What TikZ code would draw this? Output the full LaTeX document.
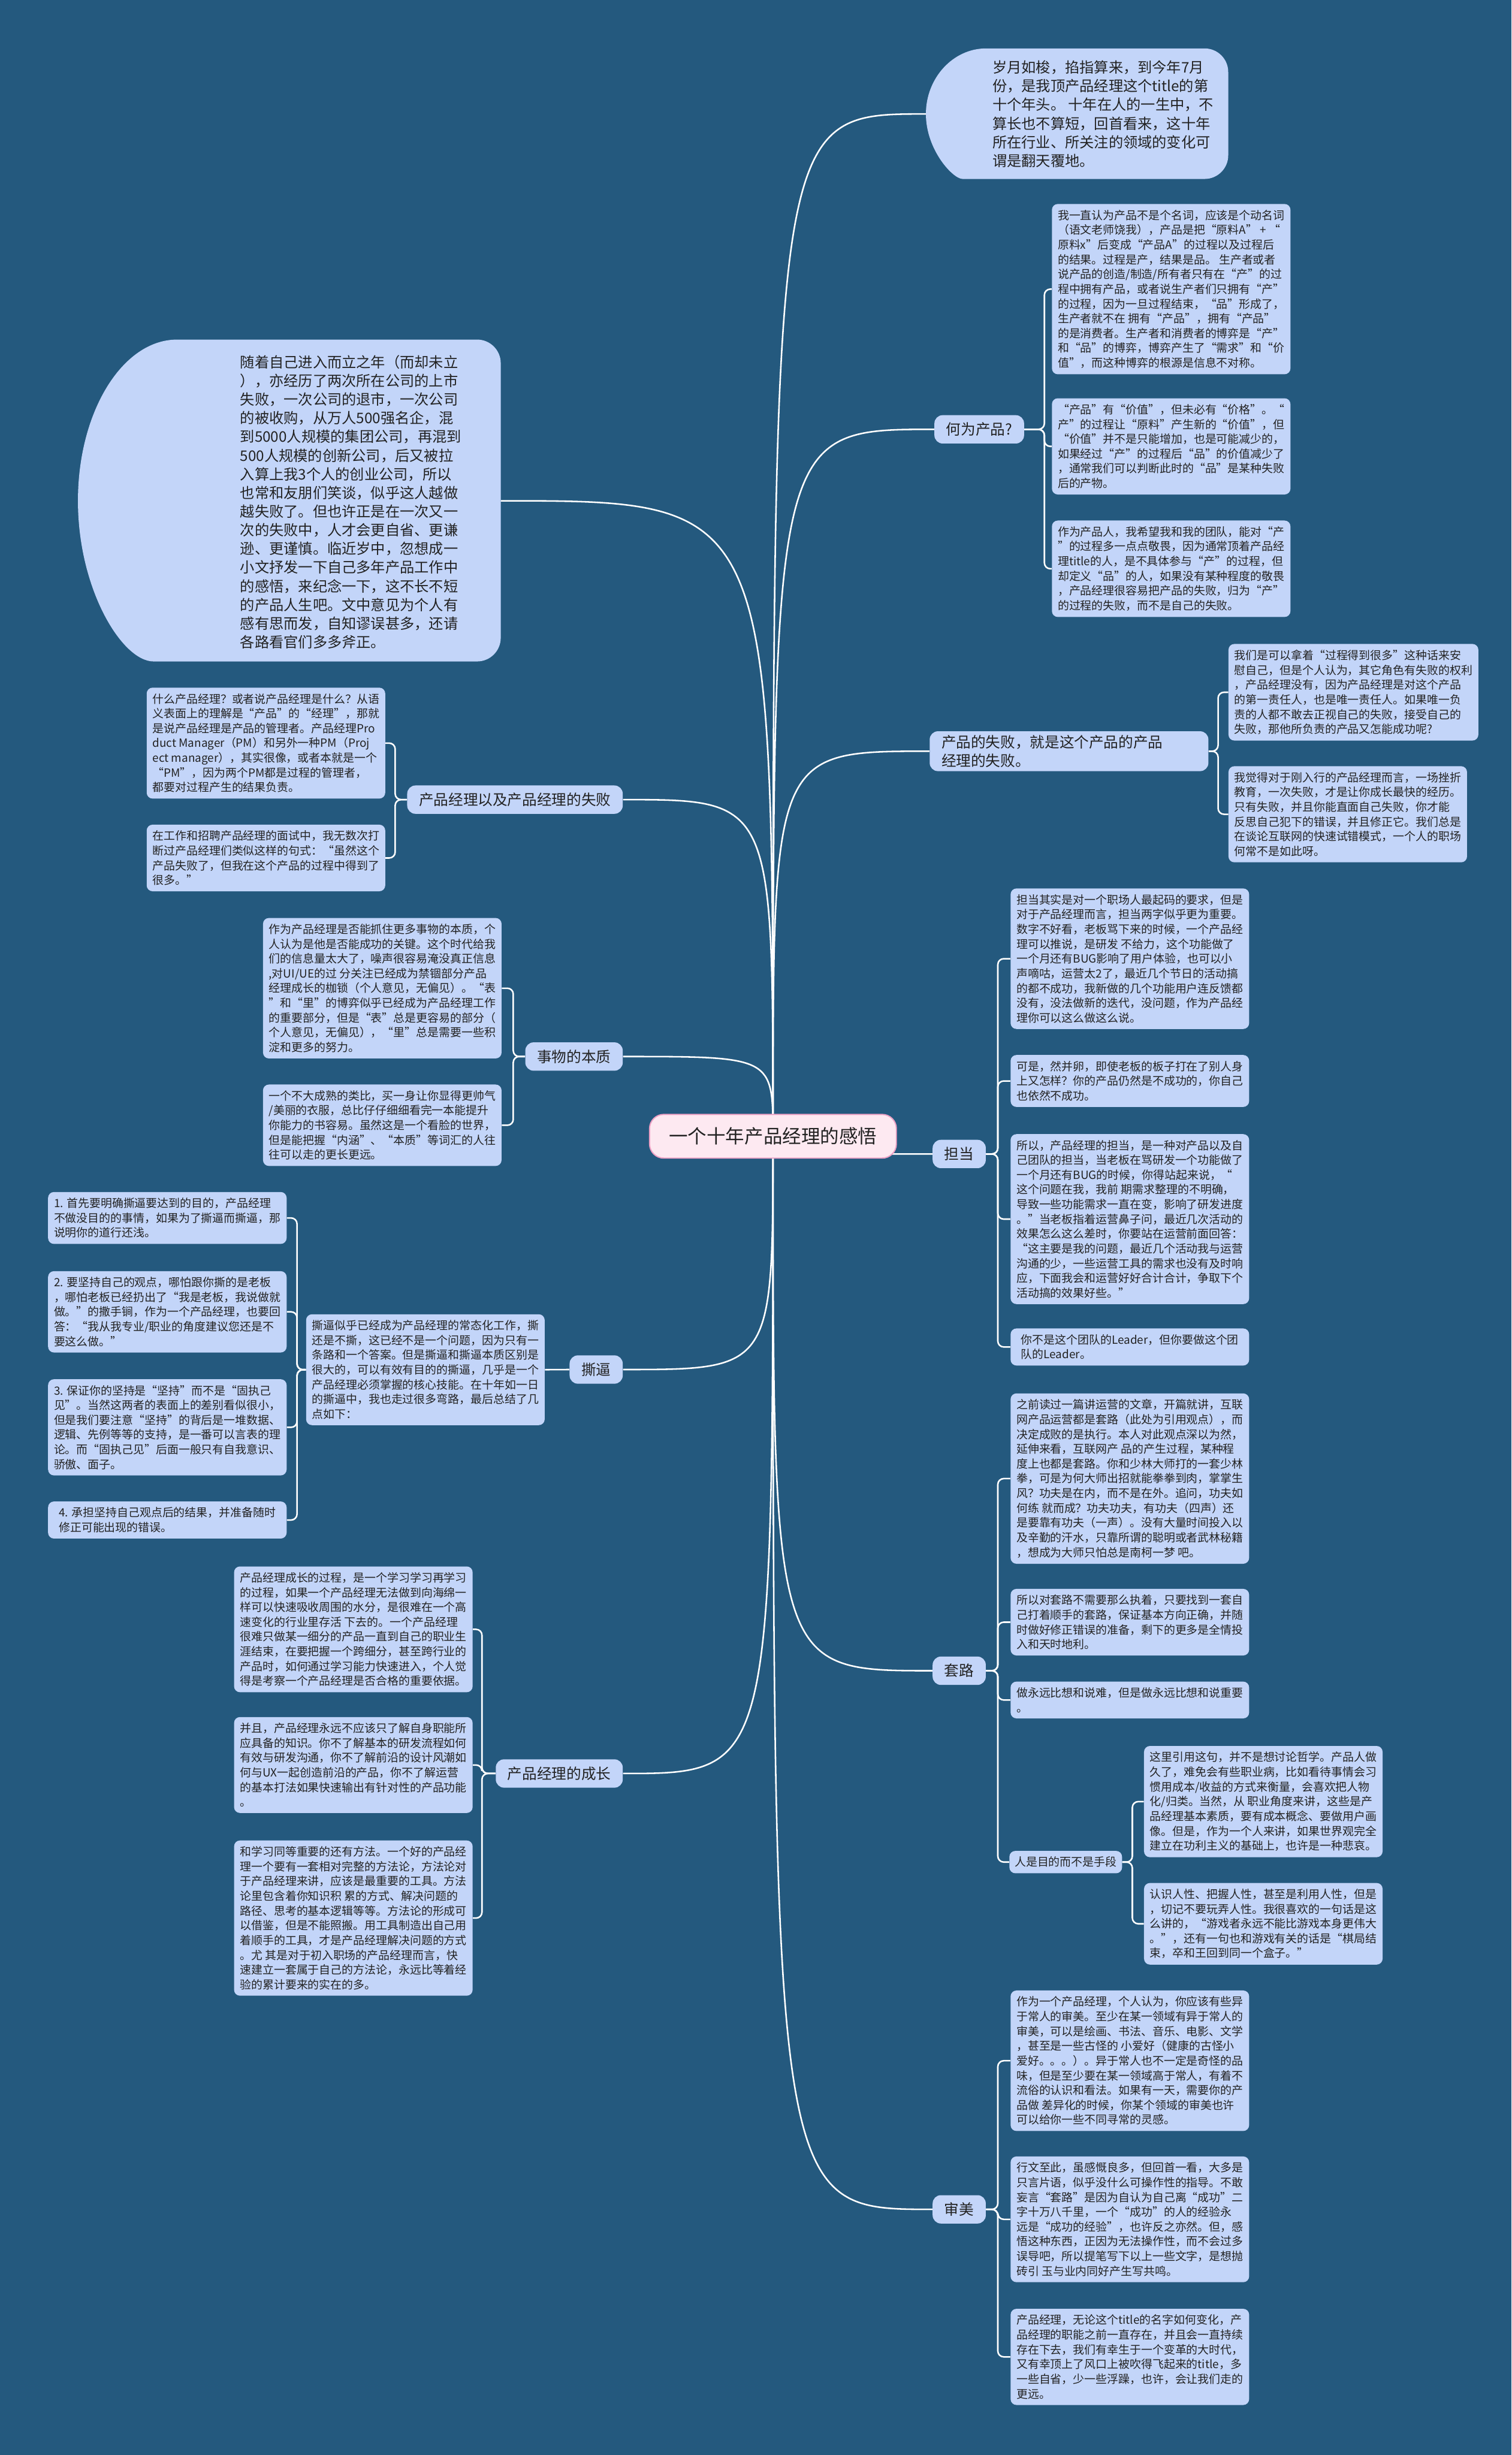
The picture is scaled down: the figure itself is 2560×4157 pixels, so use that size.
\documentclass[tikz,border=0pt]{standalone}
\usepackage{fontspec}
\setmainfont{Noto Sans CJK SC}
\usetikzlibrary{calc}
\definecolor{bgblue}{RGB}{36,89,126}
\definecolor{leafblue}{RGB}{195,213,249}
\definecolor{hubpink}{RGB}{253,233,241}
\definecolor{hubline}{RGB}{236,160,196}
\definecolor{ink}{RGB}{34,34,34}
\pgfdeclarelayer{bg}
\pgfsetlayers{bg,main}
\begin{document}
\begin{tikzpicture}[x=0.5pt, y=-0.5pt,
    link/.style={draw=white, line width=1.3pt},
    fork/.style={link, rounded corners=5pt},
    leaf/.style={fill=leafblue, text=ink, rounded corners=5pt, align=left, minimum width=202pt,
        inner xsep=5pt, inner ysep=5pt, anchor=north west, font=\fontsize{9.6}{12.5}\selectfont},
    topic/.style={fill=leafblue, text=ink, rounded corners=7pt, inner xsep=10pt, minimum height=24pt,
        font=\fontsize{12.5}{15.5}\selectfont},
    bigtext/.style={text=ink, align=left, font=\fontsize{12.3}{15.8}\selectfont},
    hub/.style={fill=hubpink, draw=hubline, line width=1pt, text=ink, rounded corners=12pt,
        minimum width=209pt, minimum height=37pt, font=\fontsize{16}{20}\selectfont}]
    \useasboundingbox (0,0) rectangle (2560,4157);

    \node[hub] (core) at (1309,1924) {一个十年产品经理的感悟};

    \node[bigtext] (intro) at (1868,193) {岁月如梭，掐指算来，到今年7月\\份，是我顶产品经理这个title的第\\十个年头。 十年在人的一生中，不\\算长也不算短，回首看来，这十年\\所在行业、所关注的领域的变化可\\谓是翻天覆地。};
    \coordinate (introtip) at (1568,193);

    \node[bigtext] (story) at (594,850) {随着自己进入而立之年（而却未立\\），亦经历了两次所在公司的上市\\失败，一次公司的退市，一次公司\\的被收购，从万人500强名企，混\\到5000人规模的集团公司，再混到\\500人规模的创新公司，后又被拉\\入算上我3个人的创业公司，所以\\也常和友朋们笑谈，似乎这人越做\\越失败了。但也许正是在一次又一\\次的失败中，人才会更自省、更谦\\逊、更谨慎。临近岁中，忽想成一\\小文抒发一下自己多年产品工作中\\的感悟，来纪念一下，这不长不短\\的产品人生吧。文中意见为个人有\\感有思而发，自知谬误甚多，还请\\各路看官们多多斧正。};
    \coordinate (storytip) at (848,848);

    % right side
    \node[topic, anchor=west] (whatprod) at (1582,727) {何为产品?};
    \node[leaf] (r1a) at (1781,345) {我一直认为产品不是个名词，应该是个动名词\\（语文老师饶我），产品是把“原料A” + “\\原料x”后变成“产品A”的过程以及过程后\\的结果。过程是产，结果是品。 生产者或者\\说产品的创造/制造/所有者只有在“产”的过\\程中拥有产品，或者说生产者们只拥有“产”\\的过程，因为一旦过程结束，“品”形成了，\\生产者就不在 拥有“产品”，拥有“产品”\\的是消费者。生产者和消费者的博弈是“产”\\和“品”的博弈，博弈产生了“需求”和“价\\值”，而这种博弈的根源是信息不对称。};
    \node[leaf] (r1b) at (1781,674) {“产品”有“价值”，但未必有“价格”。“\\产”的过程让“原料”产生新的“价值”，但\\“价值”并不是只能增加，也是可能减少的，\\如果经过“产”的过程后“品”的价值减少了\\，通常我们可以判断此时的“品”是某种失败\\后的产物。};
    \node[leaf] (r1c) at (1781,881) {作为产品人，我希望我和我的团队，能对“产\\”的过程多一点点敬畏，因为通常顶着产品经\\理title的人，是不具体参与“产”的过程，但\\却定义“品”的人，如果没有某种程度的敬畏\\，产品经理很容易把产品的失败，归为“产”\\的过程的失败，而不是自己的失败。};

    \node[topic, anchor=west, text width=216pt, align=left] (prodfail) at (1574,1272) {产品的失败，就是这个产品的产品\\经理的失败。};
    \node[leaf] (r2a) at (2080,1090) {我们是可以拿着“过程得到很多”这种话来安\\慰自己，但是个人认为，其它角色有失败的权利\\，产品经理没有，因为产品经理是对这个产品\\的第一责任人，也是唯一责任人。如果唯一负\\责的人都不敢去正视自己的失败，接受自己的\\失败，那他所负责的产品又怎能成功呢?};
    \node[leaf] (r2b) at (2080,1297) {我觉得对于刚入行的产品经理而言，一场挫折\\教育，一次失败，才是让你成长最快的经历。\\只有失败，并且你能直面自己失败，你才能\\反思自己犯下的错误，并且修正它。我们总是\\在谈论互联网的快速试错模式，一个人的职场\\何常不是如此呀。};

    \node[topic, anchor=west] (duty) at (1579,1954) {担当};
    \node[leaf] (r3a) at (1711,1504) {担当其实是对一个职场人最起码的要求，但是\\对于产品经理而言，担当两字似乎更为重要。\\数字不好看，老板骂下来的时候，一个产品经\\理可以推说，是研发 不给力，这个功能做了\\一个月还有BUG影响了用户体验，也可以小\\声嘀咕，运营太2了，最近几个节日的活动搞\\的都不成功，我新做的几个功能用户连反馈都\\没有，没法做新的迭代，没问题，作为产品经\\理你可以这么做这么说。};
    \node[leaf] (r3b) at (1711,1786) {可是，然并卵，即使老板的板子打在了别人身\\上又怎样？你的产品仍然是不成功的，你自己\\也依然不成功。};
    \node[leaf] (r3c) at (1711,1920) {所以，产品经理的担当，是一种对产品以及自\\己团队的担当，当老板在骂研发一个功能做了\\一个月还有BUG的时候，你得站起来说，“\\这个问题在我，我前 期需求整理的不明确，\\导致一些功能需求一直在变，影响了研发进度\\。”当老板指着运营鼻子问，最近几次活动的\\效果怎么这么差时，你要站在运营前面回答：\\“这主要是我的问题，最近几个活动我与运营\\沟通的少，一些运营工具的需求也没有及时响\\应，下面我会和运营好好合计合计，争取下个\\活动搞的效果好些。”};
    \node[leaf] (r3d) at (1711,2249) {你不是这个团队的Leader，但你要做这个团\\队的Leader。};

    \node[topic, anchor=west] (routine) at (1579,2829) {套路};
    \node[leaf] (r4a) at (1711,2359) {之前读过一篇讲运营的文章，开篇就讲，互联\\网产品运营都是套路（此处为引用观点），而\\决定成败的是执行。本人对此观点深以为然，\\延伸来看，互联网产 品的产生过程，某种程\\度上也都是套路。你和少林大师打的一套少林\\拳，可是为何大师出招就能拳拳到肉，掌掌生\\风？功夫是在内，而不是在外。追问，功夫如\\何练 就而成？功夫功夫，有功夫（四声）还\\是要靠有功夫（一声）。没有大量时间投入以\\及辛勤的汗水，只靠所谓的聪明或者武林秘籍\\，想成为大师只怕总是南柯一梦 吧。};
    \node[leaf] (r4b) at (1711,2690) {所以对套路不需要那么执着，只要找到一套自\\己打着顺手的套路，保证基本方向正确，并随\\时做好修正错误的准备，剩下的更多是全情投\\入和天时地利。};
    \node[leaf] (r4c) at (1711,2847) {做永远比想和说难，但是做永远比想和说重要\\。};
    \node[leaf, anchor=west, minimum width=0pt, inner xsep=4.5pt] (purpose) at (1709,3153) {人是目的而不是手段};
    \node[leaf] (r4d) at (1937,2956) {这里引用这句，并不是想讨论哲学。产品人做\\久了，难免会有些职业病，比如看待事情会习\\惯用成本/收益的方式来衡量，会喜欢把人物\\化/归类。当然，从 职业角度来讲，这些是产\\品经理基本素质，要有成本概念、要做用户画\\像。但是，作为一个人来讲，如果世界观完全\\建立在功利主义的基础上，也许是一种悲哀。};
    \node[leaf] (r4e) at (1937,3188) {认识人性、把握人性，甚至是利用人性，但是\\，切记不要玩弄人性。我很喜欢的一句话是这\\么讲的，“游戏者永远不能比游戏本身更伟大\\。”，还有一句也和游戏有关的话是“棋局结\\束，卒和王回到同一个盒子。”};

    \node[topic, anchor=west] (taste) at (1579,3741) {审美};
    \node[leaf] (r5a) at (1711,3370) {作为一个产品经理，个人认为，你应该有些异\\于常人的审美。至少在某一领域有异于常人的\\审美，可以是绘画、书法、音乐、电影、文学\\，甚至是一些古怪的 小爱好（健康的古怪小\\爱好。。。）。异于常人也不一定是奇怪的品\\味，但是至少要在某一领域高于常人，有着不\\流俗的认识和看法。如果有一天，需要你的产\\品做 差异化的时候，你某个领域的审美也许\\可以给你一些不同寻常的灵感。};
    \node[leaf] (r5b) at (1711,3651) {行文至此，虽感慨良多，但回首一看，大多是\\只言片语，似乎没什么可操作性的指导。不敢\\妄言“套路”是因为自认为自己离“成功”二\\字十万八千里，一个“成功”的人的经验永\\远是“成功的经验”，也许反之亦然。但，感\\悟这种东西，正因为无法操作性，而不会过多\\误导吧，所以提笔写下以上一些文字，是想抛\\砖引 玉与业内同好产生写共鸣。};
    \node[leaf] (r5c) at (1711,3909) {产品经理，无论这个title的名字如何变化，产\\品经理的职能之前一直存在，并且会一直持续\\存在下去，我们有幸生于一个变革的大时代，\\又有幸顶上了风口上被吹得飞起来的title，多\\一些自省，少一些浮躁，也许，会让我们走的\\更远。};

    % left side
    \node[topic, anchor=east] (pmfail) at (1055,1354) {产品经理以及产品经理的失败};
    \node[leaf] (l1a) at (248,1164) {什么产品经理？或者说产品经理是什么？从语\\义表面上的理解是“产品”的“经理”，那就\\是说产品经理是产品的管理者。产品经理Pro\\duct Manager（PM）和另外一种PM（Proj\\ect manager），其实很像，或者本就是一个\\“PM”，因为两个PM都是过程的管理者，\\都要对过程产生的结果负责。};
    \node[leaf] (l1b) at (248,1396) {在工作和招聘产品经理的面试中，我无数次打\\断过产品经理们类似这样的句式：“虽然这个\\产品失败了，但我在这个产品的过程中得到了\\很多。”};

    \node[topic, anchor=east] (essence) at (1055,1789) {事物的本质};
    \node[leaf] (l2a) at (445,1554) {作为产品经理是否能抓住更多事物的本质，个\\人认为是他是否能成功的关键。这个时代给我\\们的信息量太大了，噪声很容易淹没真正信息\\,对UI/UE的过 分关注已经成为禁锢部分产品\\经理成长的枷锁（个人意见，无偏见）。“表\\”和“里”的博弈似乎已经成为产品经理工作\\的重要部分，但是“表”总是更容易的部分（\\个人意见，无偏见），“里”总是需要一些积\\淀和更多的努力。};
    \node[leaf] (l2b) at (445,1836) {一个不大成熟的类比，买一身让你显得更帅气\\/美丽的衣服，总比仔仔细细看完一本能提升\\你能力的书容易。虽然这是一个看脸的世界，\\但是能把握“内涵”、“本质”等词汇的人往\\往可以走的更长更远。};

    \node[topic, anchor=east] (sibi) at (1055,2319) {撕逼};
    \node[leaf] (l3) at (518,2225) {撕逼似乎已经成为产品经理的常态化工作，撕\\还是不撕，这已经不是一个问题，因为只有一\\条路和一个答案。但是撕逼和撕逼本质区别是\\很大的，可以有效有目的的撕逼，几乎是一个\\产品经理必须掌握的核心技能。在十年如一日\\的撕逼中，我也走过很多弯路，最后总结了几\\点如下：};
    \node[leaf] (l3a) at (81,2018) {1. 首先要明确撕逼要达到的目的，产品经理\\不做没目的的事情，如果为了撕逼而撕逼，那\\说明你的道行还浅。};
    \node[leaf] (l3b) at (81,2152) {2. 要坚持自己的观点，哪怕跟你撕的是老板\\，哪怕老板已经扔出了“我是老板，我说做就\\做。”的撒手锏，作为一个产品经理，也要回\\答：“我从我专业/职业的角度建议您还是不\\要这么做。”};
    \node[leaf] (l3c) at (81,2335) {3. 保证你的坚持是“坚持”而不是“固执己\\见”。当然这两者的表面上的差别看似很小，\\但是我们要注意“坚持”的背后是一堆数据、\\逻辑、先例等等的支持，是一番可以言表的理\\论。而“固执己见”后面一般只有自我意识、\\骄傲、面子。};
    \node[leaf] (l3d) at (81,2542) {4. 承担坚持自己观点后的结果，并准备随时\\修正可能出现的错误。};

    \node[topic, anchor=east] (growth) at (1055,3003) {产品经理的成长};
    \node[leaf] (l4a) at (396,2652) {产品经理成长的过程，是一个学习学习再学习\\的过程，如果一个产品经理无法做到向海绵一\\样可以快速吸收周围的水分，是很难在一个高\\速变化的行业里存活 下去的。一个产品经理\\很难只做某一细分的产品一直到自己的职业生\\涯结束，在要把握一个跨细分，甚至跨行业的\\产品时，如何通过学习能力快速进入，个人觉\\得是考察一个产品经理是否合格的重要依据。};
    \node[leaf] (l4b) at (396,2907) {并且，产品经理永远不应该只了解自身职能所\\应具备的知识。你不了解基本的研发流程如何\\有效与研发沟通，你不了解前沿的设计风潮如\\何与UX一起创造前沿的产品，你不了解运营\\的基本打法如果快速输出有针对性的产品功能\\。};
    \node[leaf] (l4c) at (396,3116) {和学习同等重要的还有方法。一个好的产品经\\理一个要有一套相对完整的方法论，方法论对\\于产品经理来讲，应该是最重要的工具。方法\\论里包含着你知识积 累的方式、解决问题的\\路径、思考的基本逻辑等等。方法论的形成可\\以借鉴，但是不能照搬。用工具制造出自己用\\着顺手的工具，才是产品经理解决问题的方式\\。尤 其是对于初入职场的产品经理而言，快\\速建立一套属于自己的方法论，永远比等着经\\验的累计要来的实在的多。};

    \begin{pgfonlayer}{bg}
        \fill[bgblue] (0,0) rectangle (2560,4157);
        \fill[leafblue] (1670,303) .. controls (1614,303) and (1568,254) .. (1568,193)
            .. controls (1568,132) and (1614,82) .. (1670,82)
            [rounded corners=20pt] -- (2080,82) -- (2080,303) -- cycle;
        \fill[leafblue] (300,1120) .. controls (207,1120) and (132,998) .. (132,848)
            .. controls (132,698) and (207,575) .. (300,575)
            [rounded corners=20pt] -- (848,575) -- (848,1120) -- cycle;

        \draw[link] (core.center) .. controls (core.center |- introtip) .. (introtip);
        \draw[link] (core.center) .. controls (core.center |- storytip) .. (storytip);
        \foreach \t in {whatprod,prodfail,duty,routine,taste}
            \draw[link] (core.center) .. controls (core.center |- \t.west) .. (\t.west);
        \foreach \t in {pmfail,essence,sibi,growth}
            \draw[link] (core.center) .. controls (core.center |- \t.east) .. (\t.east);

        \foreach \l in {r1a,r1b,r1c}
            \draw[fork] (whatprod.east) -- ++(34,0) |- (\l.west);
        \foreach \l in {r2a,r2b}
            \draw[fork] (prodfail.east) -- ++(16,0) |- (\l.west);
        \foreach \l in {r3a,r3b,r3c,r3d}
            \draw[fork] (duty.east) -- ++(20,0) |- (\l.west);
        \foreach \l in {r4a,r4b,r4c,purpose}
            \draw[fork] (routine.east) -- ++(20,0) |- (\l.west);
        \foreach \l in {r4d,r4e}
            \draw[fork] (purpose.east) -- ++(17,0) |- (\l.west);
        \foreach \l in {r5a,r5b,r5c}
            \draw[fork] (taste.east) -- ++(20,0) |- (\l.west);
        \foreach \l in {l1a,l1b}
            \draw[fork] (pmfail.west) -- ++(-20,0) |- (\l.east);
        \foreach \l in {l2a,l2b}
            \draw[fork] (essence.west) -- ++(-20,0) |- (\l.east);
        \draw[link] (sibi.west) -- (l3.east);
        \foreach \l in {l3a,l3b,l3c,l3d}
            \draw[fork] (l3.west) -- ++(-15,0) |- (\l.east);
        \foreach \l in {l4a,l4b,l4c}
            \draw[fork] (growth.west) -- ++(-23,0) |- (\l.east);
    \end{pgfonlayer}
\end{tikzpicture}
\end{document}
